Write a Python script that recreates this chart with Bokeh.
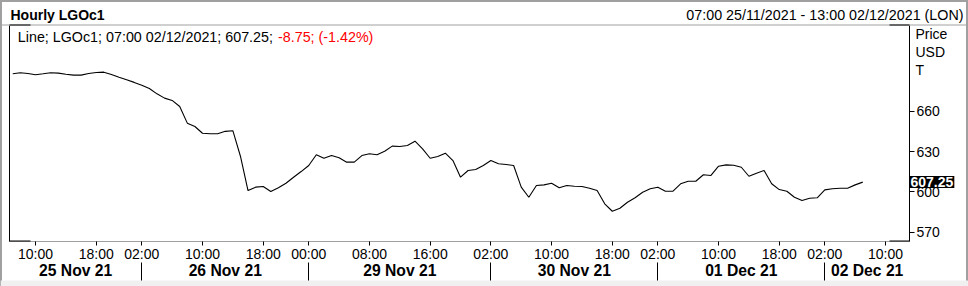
from bokeh.plotting import figure
from bokeh.models import LinearAxis, FixedTicker, Label, Range1d, BoxAnnotation, Span
from bokeh.embed import file_html
from bokeh.resources import INLINE

# ---------------- data ----------------
# hourly closes from 07:00 25/11/2021 (index 0), x = trading-hour index
prices = [687.8, 688.6, 688.0, 687.1, 687.8, 688.6, 688.3, 687.5, 686.8, 686.8,
          688.0, 688.8, 689.0, 687.3, 685.3, 683.4, 681.4, 679.3, 676.9, 672.9,
          669.7, 668.0, 663.5, 651.1, 648.6, 643.6, 643.2, 643.2, 645.0, 645.5,
          626.5, 601.0, 603.5, 604.0, 600.3, 603.0, 606.4, 610.9, 615.1, 619.6,
          627.6, 625.0, 627.0, 625.3, 622.1, 622.1, 627.0, 628.3, 627.6, 630.2,
          634.0, 633.7, 634.5, 637.7, 632.0, 625.0, 626.3, 628.8, 623.3, 610.9,
          615.9, 616.6, 619.6, 623.3, 620.9, 620.3, 619.6, 603.5, 596.0, 604.7,
          605.2, 606.4, 603.0, 604.7, 604.2, 604.0, 602.7, 601.0, 591.1, 585.6,
          587.8, 592.3, 595.6, 599.7, 602.3, 603.5, 600.5, 600.5, 606.0, 607.9,
          607.9, 612.7, 612.2, 619.1, 620.1, 619.8, 618.3, 611.6, 613.9, 615.9,
          606.0, 601.7, 600.5, 596.0, 593.6, 595.3, 595.6, 601.5, 602.3, 602.7,
          602.7, 605.2, 607.25]

hour_tick_idx = [3, 11, 17, 25, 33, 39, 47, 55, 63, 71, 79, 85, 93, 101, 107, 115]
hour_tick_labels = ["10:00", "18:00", "02:00", "10:00", "18:00", "00:00", "08:00", "16:00",
                    "02:00", "10:00", "18:00", "02:00", "10:00", "18:00", "02:00", "10:00"]
day_sep_idx = [17, 39, 63, 85, 107]
day_labels = ["25 Nov 21", "26 Nov 21", "29 Nov 21", "30 Nov 21", "01 Dec 21", "02 Dec 21"]
y_ticks = [570, 600, 630, 660]

title_text = "Hourly LGOc1"
range_text = "07:00 25/11/2021 - 13:00 02/12/2021 (LON)"
legend_black = "Line; LGOc1; 07:00 02/12/2021; 607.25;"
legend_red = "-8.75; (-1.42%)"
unit_labels = ["Price", "USD", "T"]
last_price = 607.25

# ---------------- layout (pixels) ----------------
W, H = 968, 286
PL, PR, PT, PB = 9, 909, 25, 241          # plot area box in canvas pixels
X0, X1 = -0.43, 118.16                    # visible index range of the plot area
Y0, Y1 = 563.1, 723.7                     # visible price range of the plot area
FONT = "Liberation Sans"
GRAY = "#a0a0a0"

sx = (PR - PL) / (X1 - X0)
sy = (PB - PT) / (Y1 - Y0)
xr = Range1d(X0 - PL / sx, X1 + (W - PR) / sx)
yr = Range1d(Y0 - (H - PB) / sy, Y1 + PT / sy)

def ydata(px):
    return Y0 - (px - PB) / sy

p = figure(width=W, height=H, output_backend="svg", toolbar_location=None,
           x_range=xr, y_range=yr, x_axis_location=None, y_axis_location=None,
           min_border_left=0, min_border_right=0, min_border_top=0, min_border_bottom=0)
p.grid.visible = False
p.outline_line_color = GRAY
p.outline_line_width = 3
p.background_fill_color = "white"
p.border_fill_color = "white"

# chrome
p.add_layout(BoxAnnotation(left=0, right=W, bottom=0, top=H - 280, left_units="screen",
                           right_units="screen", top_units="screen", bottom_units="screen",
                           fill_color="#f0f0f0", fill_alpha=1, line_color=None, level="underlay"))
p.add_layout(Span(location=H - 24.5, location_units="screen", dimension="width",
                  line_color=GRAY, line_width=1))
for l, r, y in [(PL, PL + 21, H - PT), (PR - 20, PR, H - PT), (PL, PL + 21, H - PB), (PR - 20, PR, H - PB)]:
    p.add_layout(BoxAnnotation(left=l, right=r, bottom=y, top=y + 1, left_units="screen",
                               right_units="screen", top_units="screen", bottom_units="screen",
                               fill_color="black", fill_alpha=1, line_color=None))

xs = list(range(len(prices)))
p.line(xs, prices, line_color="black", line_width=1.1)

# hour axis
hx = LinearAxis(fixed_location=Y0, bounds=(X0, X1),
                ticker=FixedTicker(ticks=hour_tick_idx, minor_ticks=[]),
                major_label_overrides={t: l for t, l in zip(hour_tick_idx, hour_tick_labels)},
                major_tick_out=4, major_tick_in=0, minor_tick_out=0, minor_tick_in=0,
                major_label_standoff=0, axis_line_color=GRAY, major_tick_line_color="black",
                major_label_text_font=FONT, major_label_text_font_size="14px",
                major_label_text_color="black")
p.add_layout(hx, "below")

# day separators
sep = LinearAxis(fixed_location=ydata(261.5), bounds=(X0, X1),
                 ticker=FixedTicker(ticks=day_sep_idx, minor_ticks=[]),
                 major_label_overrides={t: "" for t in day_sep_idx},
                 major_tick_out=18, major_tick_in=0, minor_tick_out=0, minor_tick_in=0,
                 major_label_standoff=0, axis_line_color=None, major_tick_line_color="black",
                 major_label_text_font_size="1px")
p.add_layout(sep, "below")

# day names
bounds = [X0] + day_sep_idx + [X1]
centers = [round((bounds[i] + bounds[i + 1]) / 2, 3) for i in range(len(day_labels))]
dx = LinearAxis(fixed_location=ydata(261.5), bounds=(X0, X1),
                ticker=FixedTicker(ticks=centers, minor_ticks=[]),
                major_label_overrides={c: d for c, d in zip(centers, day_labels)},
                major_tick_out=0, major_tick_in=0, minor_tick_out=0, minor_tick_in=0,
                major_label_standoff=0, axis_line_color=None, major_tick_line_color=None,
                major_label_text_font=FONT, major_label_text_font_size="15.7px",
                major_label_text_font_style="bold", major_label_text_color="black")
p.add_layout(dx, "below")

# right price axis
ry = LinearAxis(fixed_location=X1, bounds=(Y0, Y1),
                ticker=FixedTicker(ticks=y_ticks, minor_ticks=[]),
                major_tick_out=5, major_tick_in=0, minor_tick_out=0, minor_tick_in=0,
                major_label_standoff=2, axis_line_color="black", major_tick_line_color="black",
                major_label_text_font=FONT, major_label_text_font_size="14px",
                major_label_text_color="black")
p.add_layout(ry, "right")

# left frame line
ly = LinearAxis(fixed_location=X0, bounds=(Y0, Y1),
                ticker=FixedTicker(ticks=[], minor_ticks=[]), major_tick_out=0, major_tick_in=0,
                minor_tick_out=0, minor_tick_in=0, major_label_standoff=0,
                axis_line_color="black", major_label_text_font_size="1px")
p.add_layout(ly, "left")

def lab(x, y_from_top, text, **kw):
    opts = dict(x=x, y=H - y_from_top, x_units="screen", y_units="screen", text=text,
                text_font=FONT, text_font_size="14.3px", text_baseline="middle",
                text_color="black")
    opts.update(kw)
    p.add_layout(Label(**opts))

lab(10, 14, title_text, text_font_style="bold", text_font_size="14px")
lab(963, 14, range_text, text_align="right")
lab(17.3, 36, legend_black)
lab(277.5, 36, legend_red, text_color="#ff0000")
for t, yy in zip(unit_labels, [33.3, 51.7, 69.3]):
    lab(915, yy, t, text_font_size="14px")

p.add_layout(Label(x=PR, y=last_price, x_units="screen", y_units="data",
                   text=f"{last_price:.2f}", text_font=FONT, text_font_size="14px",
                   text_font_style="bold", text_color="white", text_baseline="middle",
                   background_fill_color="black", padding=1))

open("out.html", "w").write(file_html(p, INLINE))
